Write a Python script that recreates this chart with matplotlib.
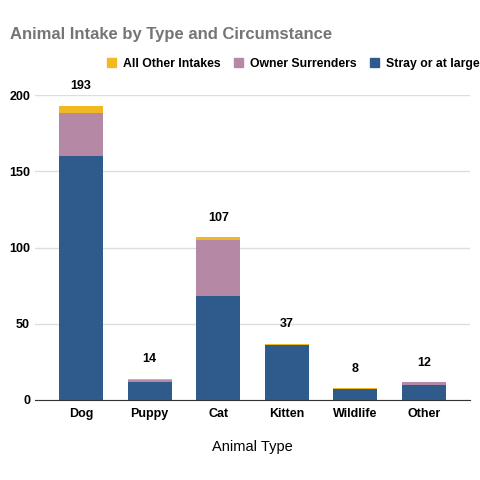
import numpy as np
import matplotlib
matplotlib.use("Agg")
import matplotlib.pyplot as plt
from matplotlib.patches import Patch

plt.rcParams['font.family'] = ['Liberation Sans', 'DejaVu Sans']

categories = ["Dog", "Puppy", "Cat", "Kitten", "Wildlife", "Other"]
stray = [160, 12, 68, 36, 7, 10]
owner = [28, 1, 37, 0, 0, 2]
other_intake = [5, 1, 2, 1, 1, 0]
totals = [193, 14, 107, 37, 8, 12]

c_stray = "#2e5b8b"
c_owner = "#b589a6"
c_other = "#f2b824"

fig = plt.figure(figsize=(4.8, 4.8), dpi=100)
ax = fig.add_axes([35 / 480, 80 / 480, 435 / 480, 305 / 480])

x = np.arange(len(categories))
width = 0.64
s = np.array(stray)
o = np.array(owner)
a = np.array(other_intake)
ax.bar(x, s, width, color=c_stray, edgecolor="none")
ax.bar(x, o, width, bottom=s, color=c_owner, edgecolor="none")
ax.bar(x, a, width, bottom=s + o, color=c_other, edgecolor="none")

for xi, t in zip(x, totals):
    ax.annotate(str(t), (xi, t), xytext=(0, 9.5), textcoords="offset points",
                ha="center", va="bottom", fontsize=9, fontweight="bold",
                annotation_clip=False)

ax.set_xlim(-0.67, 5.67)
ax.set_ylim(0, 200)
ax.set_yticks([0, 50, 100, 150, 200])
ax.yaxis.grid(True, color="#dddddd", linewidth=1)
ax.set_axisbelow(True)
for sp in ["top", "right", "left"]:
    ax.spines[sp].set_visible(False)
ax.spines["bottom"].set_color("#333333")
ax.tick_params(axis="both", length=0, labelsize=9)
ax.tick_params(axis="x", pad=6)
ax.set_xticks(x)
ax.set_xticklabels(categories, fontweight="bold")
for lab in ax.get_yticklabels():
    lab.set_fontweight("bold")
ax.set_xlabel("Animal Type", fontsize=10.5, labelpad=14)

fig.text(10 / 480, 1 - 35 / 480, "Animal Intake by Type and Circumstance",
         fontsize=12, fontweight="bold", color="#757575", va="center")

handles = [Patch(color=c_other, label="All Other Intakes"),
           Patch(color=c_owner, label="Owner Surrenders"),
           Patch(color=c_stray, label="Stray or at large")]
leg = fig.legend(handles=handles, ncol=3, loc="center left",
                 bbox_to_anchor=(96 / 480, 1 - 64 / 480), frameon=False,
                 prop={"size": 8.8, "weight": "bold"}, handlelength=0.75,
                 handleheight=0.75, handletextpad=0.55, columnspacing=1.1)

fig.savefig("out.png", dpi=100)
